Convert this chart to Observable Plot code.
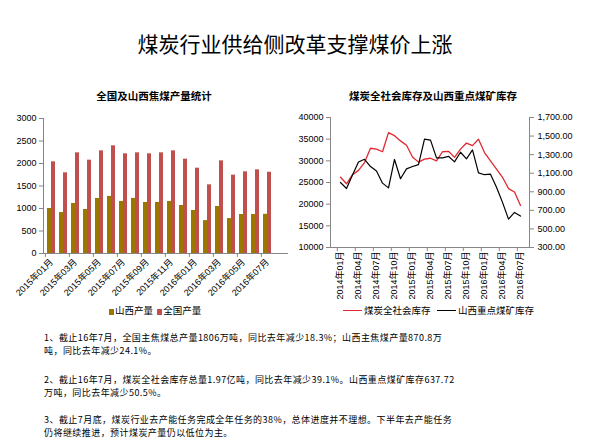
<!DOCTYPE html>
<html><head><meta charset="utf-8">
<script src="https://cdn.jsdelivr.net/npm/d3@7"></script>
<script src="https://cdn.jsdelivr.net/npm/@observablehq/plot@0.6"></script>
<style>
body{margin:0;background:#fff;font-family:"Noto Sans CJK SC",sans-serif;color:#000;}
#page{position:relative;width:606px;height:443px;overflow:hidden;background:#fff;}
.abs{position:absolute;white-space:nowrap;}
.ttl{font-size:21px;line-height:22px;}
.sub{font-size:10.5px;font-weight:bold;line-height:12px;text-align:center;}
.leg{font-size:9.5px;line-height:11px;}
.para{font-size:9px;line-height:13.1px;letter-spacing:0.44px;}
.sw{display:inline-block;width:5px;height:6px;vertical-align:-1px;margin-right:1px;}
.ln{display:inline-block;width:19px;height:0;border-top:1.3px solid;vertical-align:3px;margin-right:2px;}
</style></head><body><div id="page">
<div class="abs ttl" style="left:0;width:590px;text-align:center;top:32px;">煤炭行业供给侧改革支撑煤价上涨</div>
<div class="abs sub" style="left:54px;width:200px;top:90px;">全国及山西焦煤产量统计</div>
<div class="abs sub" style="left:333px;width:200px;top:90px;">煤炭全社会库存及山西重点煤矿库存</div>
<div id="c1" class="abs" style="left:0;top:105px;"></div>
<div id="c2" class="abs" style="left:290px;top:105px;"></div>
<div class="abs leg" style="left:109px;top:305px;"><span class="sw" style="background:#9B7700"></span>山西产量&nbsp;&nbsp;<span class="sw" style="background:#C0504D"></span>全国产量</div>
<div class="abs leg" style="left:343px;top:305px;"><span class="ln" style="border-color:#E0282E"></span>煤炭全社会库存&nbsp;&nbsp;&nbsp;<span class="ln" style="border-color:#000"></span>山西重点煤矿库存</div>
<div class="abs para" style="left:44px;top:330.5px;">1、截止16年7月，全国主焦煤总产量1806万吨，同比去年减少18.3%；山西主焦煤产量870.8万<br>吨，同比去年减少24.1%。</div>
<div class="abs para" style="left:44px;top:372.5px;">2、截止16年7月，煤炭全社会库存总量1.97亿吨，同比去年减少39.1%。山西重点煤矿库存637.72<br>万吨，同比去年减少50.5%。</div>
<div class="abs para" style="left:44px;top:412.5px;">3、截止7月底，煤炭行业去产能任务完成全年任务的38%，总体进度并不理想。下半年去产能任务<br>仍将继续推进，预计煤炭产量仍以低位为主。</div>
</div>
<script>
// ---- data: coking coal output (万吨) ----
const prodMonths = ["2015年01月","2015年02月","2015年03月","2015年04月","2015年05月","2015年06月","2015年07月","2015年08月","2015年09月","2015年10月","2015年11月","2015年12月","2016年01月","2016年02月","2016年03月","2016年04月","2016年05月","2016年06月","2016年07月"];
const prodExtraSlot = ["2016年08月"];
const shanxiOutput = [1000,910,1112,978,1224,1269,1157,1224,1134,1134,1157,1067,955,731,1045,776,866,866,871];
const nationalOutput = [2037,1793,2237,2074,2281,2393,2215,2237,2215,2237,2281,2096,1896,1526,2059,1741,1815,1859,1806];
const prodYTicks = [0,500,1000,1500,2000,2500,3000];

// ---- data: coal stocks ----
const stockMonths = ["2014年01月","2014年02月","2014年03月","2014年04月","2014年05月","2014年06月","2014年07月","2014年08月","2014年09月","2014年10月","2014年11月","2014年12月","2015年01月","2015年02月","2015年03月","2015年04月","2015年05月","2015年06月","2015年07月","2015年08月","2015年09月","2015年10月","2015年11月","2015年12月","2016年01月","2016年02月","2016年03月","2016年04月","2016年05月","2016年06月","2016年07月"];
const nationalStock = [26200,24700,26800,27800,29600,32900,32700,32100,36500,35800,34600,33600,30900,29700,30400,30600,30000,32100,32200,30800,32700,34100,33500,35000,31900,30000,28100,26200,23600,22800,19700];
const shanxiStock = [1000,935,1080,1220,1250,1172,1125,993,942,1248,1040,1147,1172,1193,1468,1456,1265,1265,1282,1222,1326,1254,1351,1104,1084,1090,948,786,606,678,638];
const stockLeftTicks = [10000,15000,20000,25000,30000,35000,40000];
const stockRightTicks = [300,500,700,900,1100,1300,1500,1700];

const GRAY = "#868686";
const FONT = "'Liberation Sans', Arial, 'Noto Sans CJK SC', sans-serif";
const plain = d => String(d);

// ---- chart 1 ----
{
  const W = 300, H = 200, mL = 43, mR = 13, mT = 13, mB = 52;
  const slots = prodMonths.concat(prodExtraSlot);
  const step = (W - mL - mR) / slots.length;
  const rows = prodMonths.map((m, i) => ({month: m, shanxi: shanxiOutput[i], national: nationalOutput[i]}));
  const labelMonths = prodMonths.filter((d, i) => i % 2 === 0);
  const chart = Plot.plot({
    width: W, height: H, marginLeft: mL, marginRight: mR, marginTop: mT, marginBottom: mB,
    style: {fontFamily: FONT, fontSize: "9px", background: "transparent", overflow: "visible", color: "#000"},
    x: {type: "band", domain: slots, paddingInner: 0.67, paddingOuter: 0.335, label: null},
    y: {domain: [0, 3000], label: null},
    marks: [
      Plot.barY(rows, {x: "month", y: "shanxi", fill: "#9B7700", dx: -2}),
      Plot.barY(rows, {x: "month", y: "national", fill: "#C0504D", dx: 2}),
      Plot.frame({anchor: "left", stroke: GRAY}),
      Plot.frame({anchor: "bottom", stroke: GRAY}),
      Plot.axisY(prodYTicks, {anchor: "left", tickSize: 4, tickPadding: 3, stroke: GRAY, color: "#000", fontSize: 9, label: null, tickFormat: plain}),
      Plot.axisX(labelMonths, {anchor: "bottom", tickSize: 0, tickPadding: 7, tickRotate: -45, color: "#000", fontSize: 9, label: null}),
      Plot.axisX(labelMonths, {anchor: "bottom", tickSize: 4, tickFormat: () => "", stroke: GRAY, dx: -step / 2, label: null})
    ]
  });
  document.getElementById("c1").appendChild(chart);
}

// ---- chart 2 ----
{
  const W = 316, H = 200, mL = 40, mR = 77, mT = 12, mB = 58;
  const step = (W - mL - mR) / stockMonths.length;
  const toLeft = v => 10000 + (v - 300) / 1400 * 30000;
  const fromLeft = v => 300 + (v - 10000) / 30000 * 1400;
  const fmt = d3.format(",.2f");
  const rows = stockMonths.map((m, i) => ({month: m, national: nationalStock[i], shanxi: shanxiStock[i]}));
  const labelMonths = stockMonths.filter((d, i) => i % 3 === 0);
  const chart = Plot.plot({
    width: W, height: H, marginLeft: mL, marginRight: mR, marginTop: mT, marginBottom: mB,
    style: {fontFamily: FONT, fontSize: "9px", background: "transparent", overflow: "visible", color: "#000"},
    x: {type: "point", domain: stockMonths, padding: 0.5, label: null},
    y: {domain: [10000, 40000], label: null},
    marks: [
      Plot.line(rows, {x: "month", y: "national", stroke: "#E0282E", strokeWidth: 1.3}),
      Plot.line(rows, {x: "month", y: d => toLeft(d.shanxi), stroke: "#000", strokeWidth: 1.2}),
      Plot.frame({anchor: "left", stroke: GRAY}),
      Plot.frame({anchor: "right", stroke: GRAY}),
      Plot.frame({anchor: "bottom", stroke: GRAY}),
      Plot.axisY(stockLeftTicks, {anchor: "left", tickSize: 4, tickPadding: 3, stroke: GRAY, color: "#000", fontSize: 9, label: null, tickFormat: plain}),
      Plot.axisY(stockRightTicks.map(toLeft), {anchor: "right", tickSize: 4, tickPadding: 4, stroke: GRAY, color: "#000", fontSize: 9, label: null, tickFormat: d => fmt(Math.round(fromLeft(d)))}),
      Plot.axisX(labelMonths, {anchor: "bottom", tickSize: 0, tickPadding: 4, tickRotate: -90, color: "#000", fontSize: 9, label: null}),
      Plot.axisX(labelMonths, {anchor: "bottom", tickSize: 4, tickFormat: () => "", stroke: GRAY, dx: -step / 2, label: null})
    ]
  });
  document.getElementById("c2").appendChild(chart);
}
</script>
</body></html>
